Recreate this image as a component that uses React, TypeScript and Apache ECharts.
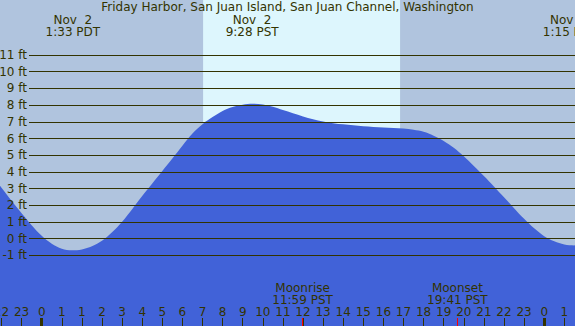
import React, { useEffect, useRef } from "react";
import * as echarts from "echarts";

const TITLE = "Friday Harbor, San Juan Island, San Juan Channel, Washington";

// Elapsed hours since Nov 2 00:00 PDT (the clocks fall back at 02:00 PDT), every half hour
const tideHours = [
  -2.5, -2, -1.5, -1, -0.5, 0, 0.5, 1, 1.5, 2, 2.5, 3, 3.5, 4, 4.5, 5, 5.5, 6, 6.5, 7, 7.5,
  8, 8.5, 9, 9.5, 10, 10.5, 11, 11.5, 12, 12.5, 13, 13.5, 14, 14.5, 15, 15.5, 16, 16.5, 17,
  17.5, 18, 18.5, 19, 19.5, 20, 20.5, 21, 21.5, 22, 22.5, 23, 23.5, 24, 24.5, 25, 25.5, 26,
  26.5, 27,
];
const tideFeet = [
  3.83, 3.05, 2.27, 1.52, 0.8, 0.17, -0.3, -0.6, -0.69, -0.64, -0.45, -0.12, 0.38, 1.02, 1.77,
  2.55, 3.3, 4.05, 4.8, 5.57, 6.3, 6.86, 7.28, 7.65, 7.88, 8.02, 8.08, 8.03, 7.9, 7.7, 7.51,
  7.32, 7.16, 7.02, 6.92, 6.85, 6.79, 6.73, 6.69, 6.66, 6.63, 6.6, 6.53, 6.41, 6.17, 5.85,
  5.44, 4.93, 4.35, 3.75, 3.13, 2.48, 1.83, 1.19, 0.62, 0.15, -0.16, -0.35, -0.4, -0.33,
];

const hourTickStart = -2;
const hourLabels = [
  "22", "23", "0", "1", "1", "2", "3", "4", "5", "6", "7", "8", "9", "10", "11", "12", "13",
  "14", "15", "16", "17", "18", "19", "20", "21", "22", "23", "0", "1",
];
const midnightHours = [0, 25];
const daylight = [8.03, 17.83];

const eventHours = [1.55, 10.47, 26.25];
const eventDates = ["Nov  2", "Nov  2", "Nov  3"];
const eventTimes = ["1:33 PDT", "9:28 PST", "1:15 PST"];

const moonHours = [12.98, 20.68];
const moonNames = ["Moonrise", "Moonset"];
const moonTimes = ["11:59 PST", "19:41 PST"];

const FEET_MIN = -1;
const FEET_MAX = 11;

// layout
const W = 575;
const H = 326;
const PX_PER_FT = 16.7;
const ZERO_Y = 238.7;
const PX_PER_HR = 20.1;
const ZERO_X = 41.7;
const X_MIN = -3;
const X_MAX = 27;
const Y_MIN = -(H - ZERO_Y) / PX_PER_FT;
const Y_MAX = ZERO_Y / PX_PER_FT;
const TICK_FT = 8 / PX_PER_FT;

const INK = "#333300";
const NIGHT = "#b0c4de";
const DAY = "#ddf6fd";
const WATER = "#4162d8";
const FONT = "DejaVu Sans";

export default function App() {
  const ref = useRef<HTMLDivElement>(null);
  useEffect(() => {
    if (!ref.current) return;
    const chart = echarts.init(ref.current, undefined, { renderer: "svg" });

    const tickLines: any[] = [];
    midnightHours.forEach((h) =>
      tickLines.push([
        { coord: [h, Y_MIN], lineStyle: { color: INK, width: 3, type: "solid" } },
        { coord: [h, Y_MIN + TICK_FT] },
      ])
    );
    moonHours.forEach((h) =>
      tickLines.push([
        { coord: [h, Y_MIN], lineStyle: { color: "#ff0000", width: 1, type: "solid" } },
        { coord: [h, Y_MIN + TICK_FT] },
      ])
    );

    const labelPoints: any[] = [];
    eventHours.forEach((h, i) =>
      labelPoints.push({
        coord: [h, (ZERO_Y - 25.5) / PX_PER_FT],
        label: { formatter: eventDates[i] + "\n" + eventTimes[i] },
      })
    );
    moonHours.forEach((h, i) =>
      labelPoints.push({
        coord: [h, (ZERO_Y - 294) / PX_PER_FT],
        label: { formatter: moonNames[i] + "\n" + moonTimes[i] },
      })
    );

    const option: any = {
      animation: false,
      backgroundColor: NIGHT,
      textStyle: { fontFamily: FONT },
      title: {
        text: TITLE,
        left: "center",
        top: 1,
        padding: 0,
        textStyle: {
          fontSize: 12,
          lineHeight: 12,
          fontWeight: "normal",
          color: INK,
          fontFamily: FONT,
        },
      },
      grid: [
        {
          left: ZERO_X + X_MIN * PX_PER_HR,
          width: (X_MAX - X_MIN) * PX_PER_HR,
          top: 0,
          height: H,
          containLabel: false,
          outerBoundsMode: "none",
        },
        {
          left: 29,
          right: 0,
          top: ZERO_Y - FEET_MAX * PX_PER_FT,
          height: (FEET_MAX - FEET_MIN) * PX_PER_FT,
          containLabel: false,
          outerBoundsMode: "none",
        },
      ],
      xAxis: [
        {
          type: "value",
          gridIndex: 0,
          position: "bottom",
          min: X_MIN,
          max: X_MAX,
          interval: 1,
          z: 5,
          axisLine: { show: false, onZero: false },
          splitLine: { show: false },
          axisTick: { inside: true, length: 8, lineStyle: { color: INK, width: 1 } },
          axisLabel: {
            inside: true,
            margin: 8,
            color: INK,
            fontSize: 12,
            fontFamily: FONT,
            formatter: (v: number) => {
              const i = Math.round(v) - hourTickStart;
              return i >= 0 && i < hourLabels.length ? hourLabels[i] : "";
            },
          },
        },
        { type: "value", gridIndex: 1, min: 0, max: 1, show: false },
      ],
      yAxis: [
        { type: "value", gridIndex: 0, min: Y_MIN, max: Y_MAX, show: false },
        {
          type: "value",
          gridIndex: 1,
          min: FEET_MIN,
          max: FEET_MAX,
          interval: 1,
          z: 5,
          axisLine: { show: false },
          axisTick: { show: false },
          splitLine: { show: true, lineStyle: { color: INK, width: 1 } },
          axisLabel: {
            formatter: "{value} ft",
            color: INK,
            fontSize: 12,
            fontFamily: FONT,
            margin: 2,
          },
        },
      ],
      series: [
        {
          type: "line",
          xAxisIndex: 0,
          yAxisIndex: 0,
          data: [],
          z: 1,
          silent: true,
          markArea: {
            silent: true,
            itemStyle: { color: DAY },
            data: [[{ xAxis: daylight[0] }, { xAxis: daylight[1] }]],
          },
        },
        {
          type: "line",
          xAxisIndex: 0,
          yAxisIndex: 0,
          z: 2,
          smooth: 0.35,
          symbol: "none",
          silent: true,
          lineStyle: { width: 0 },
          areaStyle: { color: WATER, opacity: 1, origin: "start" },
          data: tideHours.map((h, i) => [h, tideFeet[i]]),
        },
        {
          type: "line",
          xAxisIndex: 0,
          yAxisIndex: 0,
          data: [],
          z: 6,
          silent: true,
          markLine: {
            silent: true,
            symbol: ["none", "none"],
            label: { show: false },
            data: tickLines,
          },
          markPoint: {
            silent: true,
            symbol: "rect",
            symbolSize: 0,
            itemStyle: { color: "transparent" },
            label: {
              show: true,
              position: "inside",
              color: INK,
              fontSize: 12,
              lineHeight: 12,
              fontFamily: FONT,
              align: "center",
              verticalAlign: "middle",
            },
            data: labelPoints,
          },
        },
      ],
    };
    chart.setOption(option);
    return () => chart.dispose();
  }, []);
  return (
    <div
      ref={ref}
      style={{ position: "fixed", left: 0, top: 0, width: W, height: H }}
    />
  );
}
